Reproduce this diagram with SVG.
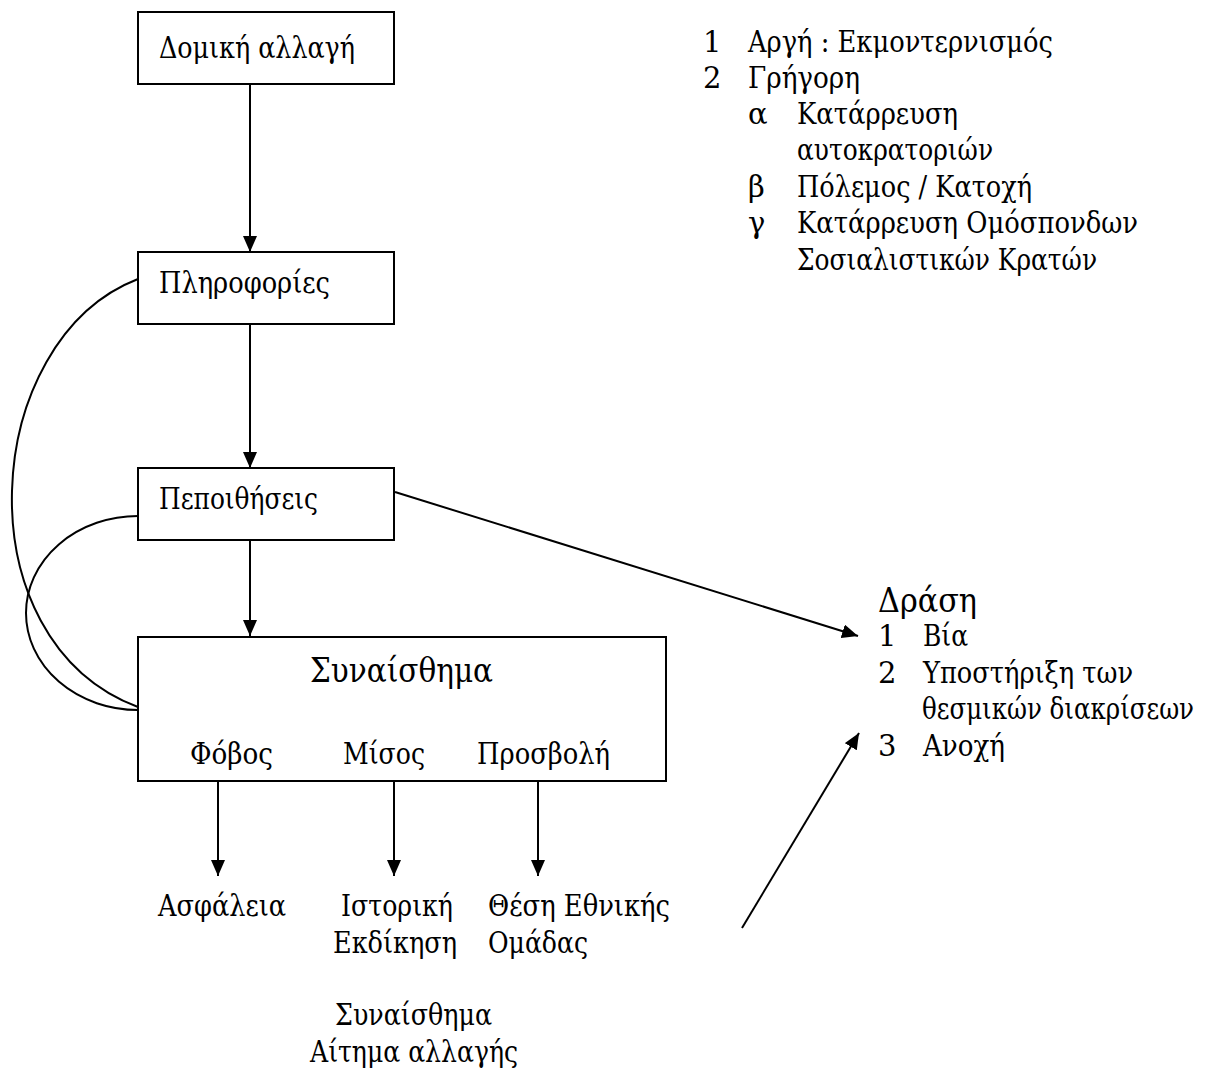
<svg xmlns="http://www.w3.org/2000/svg" width="1207" height="1073" viewBox="0 0 1207 1073">
<style>
text{font-family:"DejaVu Serif","Liberation Serif","Times New Roman",serif;font-size:29px;fill:#000}
.big{font-size:34px}
.box{fill:#fff;stroke:#000;stroke-width:2}
.ln{fill:none;stroke:#000;stroke-width:2}
</style>
<defs>
<marker id="ah" viewBox="0 0 16 14" refX="16" refY="7" markerWidth="16" markerHeight="14" markerUnits="userSpaceOnUse" orient="auto">
<path d="M0,0 L16,7 L0,14 z" fill="#000"/>
</marker>
</defs>
<rect width="1207" height="1073" fill="#fff"/>
<g id="connectors">
<line class="ln" x1="250" y1="84" x2="250" y2="252" marker-end="url(#ah)"/>
<line class="ln" x1="250" y1="324" x2="250" y2="468" marker-end="url(#ah)"/>
<line class="ln" x1="250" y1="540" x2="250" y2="636" marker-end="url(#ah)"/>
<path class="ln" d="M138,279 C-20,340 -40,640 138,707"/>
<path class="ln" d="M138,516 A112,97 0 0 0 138,710"/>
<line class="ln" x1="395" y1="492" x2="858" y2="636" marker-end="url(#ah)"/>
<line class="ln" x1="742" y1="928" x2="859" y2="733" marker-end="url(#ah)"/>
<line class="ln" x1="218" y1="781" x2="218" y2="876" marker-end="url(#ah)"/>
<line class="ln" x1="394" y1="781" x2="394" y2="876" marker-end="url(#ah)"/>
<line class="ln" x1="538" y1="781" x2="538" y2="876" marker-end="url(#ah)"/>
</g>
<g id="node-domiki">
<rect class="box" x="138" y="12" width="256" height="72"/>
<text x="159" y="58" textLength="196" lengthAdjust="spacingAndGlyphs">Δομική αλλαγή</text>
</g>
<g id="node-plirofories">
<rect class="box" x="138" y="252" width="256" height="72"/>
<text x="159" y="293" textLength="171" lengthAdjust="spacingAndGlyphs">Πληροφορίες</text>
</g>
<g id="node-pepoithiseis">
<rect class="box" x="138" y="468" width="256" height="72"/>
<text x="159" y="509" textLength="159" lengthAdjust="spacingAndGlyphs">Πεποιθήσεις</text>
</g>
<g id="node-synaisthima">
<rect class="box" x="138" y="637" width="528" height="144"/>
<text class="big" x="310" y="682" textLength="183" lengthAdjust="spacingAndGlyphs">Συναίσθημα</text>
<text x="190" y="764" textLength="83" lengthAdjust="spacingAndGlyphs">Φόβος</text>
<text x="343" y="764" textLength="82" lengthAdjust="spacingAndGlyphs">Μίσος</text>
<text x="477" y="764" textLength="133" lengthAdjust="spacingAndGlyphs">Προσβολή</text>
</g>
<g id="node-outcomes">
<text x="158" y="916" textLength="128" lengthAdjust="spacingAndGlyphs">Ασφάλεια</text>
<text x="341" y="916" textLength="112" lengthAdjust="spacingAndGlyphs">Ιστορική</text>
<text x="333" y="953" textLength="124" lengthAdjust="spacingAndGlyphs">Εκδίκηση</text>
<text x="488" y="916" textLength="182" lengthAdjust="spacingAndGlyphs">Θέση Εθνικής</text>
<text x="488" y="953" textLength="100" lengthAdjust="spacingAndGlyphs">Ομάδας</text>
<text x="335" y="1025" textLength="157" lengthAdjust="spacingAndGlyphs">Συναίσθημα</text>
<text x="310" y="1062" textLength="208" lengthAdjust="spacingAndGlyphs">Αίτημα αλλαγής</text>
</g>
<g id="node-types">
<text x="703" y="52">1</text><text x="748" y="52" textLength="305" lengthAdjust="spacingAndGlyphs">Αργή : Εκμοντερνισμός</text>
<text x="703" y="88">2</text><text x="748" y="88" textLength="112" lengthAdjust="spacingAndGlyphs">Γρήγορη</text>
<text x="748" y="124">α</text><text x="797" y="124" textLength="161" lengthAdjust="spacingAndGlyphs">Κατάρρευση</text>
<text x="797" y="160" textLength="196" lengthAdjust="spacingAndGlyphs">αυτοκρατοριών</text>
<text x="748" y="197">β</text><text x="797" y="197" textLength="235" lengthAdjust="spacingAndGlyphs">Πόλεμος / Κατοχή</text>
<text x="748" y="233">γ</text><text x="797" y="233" textLength="341" lengthAdjust="spacingAndGlyphs">Κατάρρευση Ομόσπονδων</text>
<text x="797" y="270" textLength="300" lengthAdjust="spacingAndGlyphs">Σοσιαλιστικών Κρατών</text>
</g>
<g id="node-drasi">
<text class="big" x="878" y="612" textLength="99" lengthAdjust="spacingAndGlyphs">Δράση</text>
<text x="878" y="646">1</text><text x="923" y="646" textLength="45" lengthAdjust="spacingAndGlyphs">Βία</text>
<text x="878" y="683">2</text><text x="923" y="683" textLength="210" lengthAdjust="spacingAndGlyphs">Υποστήριξη των</text>
<text transform="translate(922,719) scale(0.85,1)" x="0" y="0" textLength="320" lengthAdjust="spacingAndGlyphs">θεσμικών διακρίσεων</text>
<text x="878" y="756">3</text><text x="923" y="756" textLength="82" lengthAdjust="spacingAndGlyphs">Ανοχή</text>
</g>
</svg>
